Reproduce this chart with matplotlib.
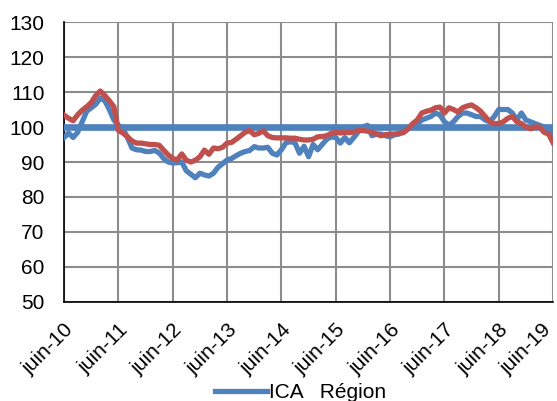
import numpy as np
import matplotlib.pyplot as plt
import matplotlib.transforms as mtransforms

plt.rcParams['font.family'] = ['Liberation Sans', 'DejaVu Sans']

# index mensuels, juin-10 -> juin-19
ica = [97, 98.3, 97, 98.5, 101.5, 104.5, 105.5, 106.5, 108.3, 107.5, 105, 102,
       100.5, 99.5, 97, 94, 93.5, 93.4, 93, 93, 93.3, 92.6, 91, 90,
       89.7, 89.8, 90, 87.5, 86.5, 85.5, 86.8, 86.3, 86, 86.8, 88.5, 89.5,
       90.6, 91, 91.8, 92.5, 93, 93.3, 94.4, 94, 94, 94.2, 92.5, 92,
       93.5, 95.5, 95.8, 95.5, 92.5, 94.5, 91.5, 95, 93.5, 95, 96.5, 97.2,
       97, 95.4, 97, 95.5, 97, 98.7, 100, 100.5, 97.5, 98, 98, 97.5,
       97.2, 97.8, 98, 98.8, 99.5, 100, 100.8, 102, 102.5, 103, 104, 103.5,
       101.5, 100.5, 101.5, 103, 104, 104, 103.5, 103, 103, 102, 101.5, 103,
       105, 105, 105, 104, 102, 104, 102, 101.5, 101, 100.5, 100, 99,
       97.5]
region = [103.4, 102.5, 101.8, 103.5, 104.8, 105.8, 107, 109, 110.3, 109, 107.5, 105.8,
          99, 98.3, 97.2, 96, 95.4, 95.4, 95.2, 95, 95, 94.8, 93.4, 92,
          91, 90.6, 92.3, 90.5, 90, 90.5, 91.5, 93.4, 92.2, 94, 93.8, 94.2,
          95.4, 95.6, 96.5, 97.5, 98.5, 99, 97.8, 98.2, 98.9, 97.5, 97, 96.9,
          96.9, 96.9, 96.8, 96.8, 96.5, 96.3, 96.3, 96.5, 97.2, 97.3, 97.5, 98.2,
          98.5, 98.3, 98.5, 98.4, 98.6, 99, 99, 98.8, 98.5, 98, 97.5, 97.8,
          98, 98, 98.2, 98.4, 99.5, 101, 102, 104, 104.5, 104.8, 105.5, 105.7,
          104, 105.5, 105, 104.3, 105.5, 106, 106.3, 105.5, 104.5, 103, 101.5, 101,
          101, 101.5, 102.5, 103, 101.5, 101, 100, 99.5, 100, 100, 98.5, 98,
          95.5]
base = 100
tick_labels = ["juin-10", "juin-11", "juin-12", "juin-13", "juin-14",
               "juin-15", "juin-16", "juin-17", "juin-18", "juin-19"]

blue = "#4F81BD"
red = "#C0504D"

x = np.arange(len(ica))

fig = plt.figure(figsize=(5.57, 4.01), dpi=100)
ax = fig.add_axes([0.115, 0.247, 0.878, 0.698])

ax.axhline(base, color=blue, lw=4.8, zorder=3)
ax.plot(x, ica, color=blue, lw=3.8, zorder=4, label="ICA   Région")
ax.plot(x, region, color=red, lw=3.8, zorder=5)

ax.set_xlim(0, len(ica) - 1)
ax.set_ylim(50, 130)
ax.set_yticks(range(50, 131, 10))
ax.set_xticks(range(0, len(ica), 12))
ax.set_xticklabels(tick_labels, rotation=45, ha="right", rotation_mode="anchor")
ax.tick_params(length=0, labelsize=15)
ax.tick_params(axis="x", pad=13)
ax.tick_params(axis="y", pad=14)
ax.grid(True, color="#8c8c8c", lw=1.5)
ax.set_axisbelow(True)
for s in ["top", "right"]:
    ax.spines[s].set_visible(False)
ax.spines["left"].set_color("black")
ax.spines["bottom"].set_color("black")
ax.spines["left"].set_linewidth(1.2)
ax.spines["bottom"].set_linewidth(1.2)

# le dernier libellé est rentré dans la figure
last = ax.get_xticklabels()[-1]
last.set_transform(last.get_transform() +
                   mtransforms.ScaledTranslation(-12 / 100, 0, fig.dpi_scale_trans))

fig.legend(loc="center", bbox_to_anchor=(0.54, 0.02), frameon=False,
           fontsize=15, handlelength=2.5, handletextpad=0.1,
           borderpad=0, borderaxespad=0)

fig.savefig("out.png", dpi=100)
